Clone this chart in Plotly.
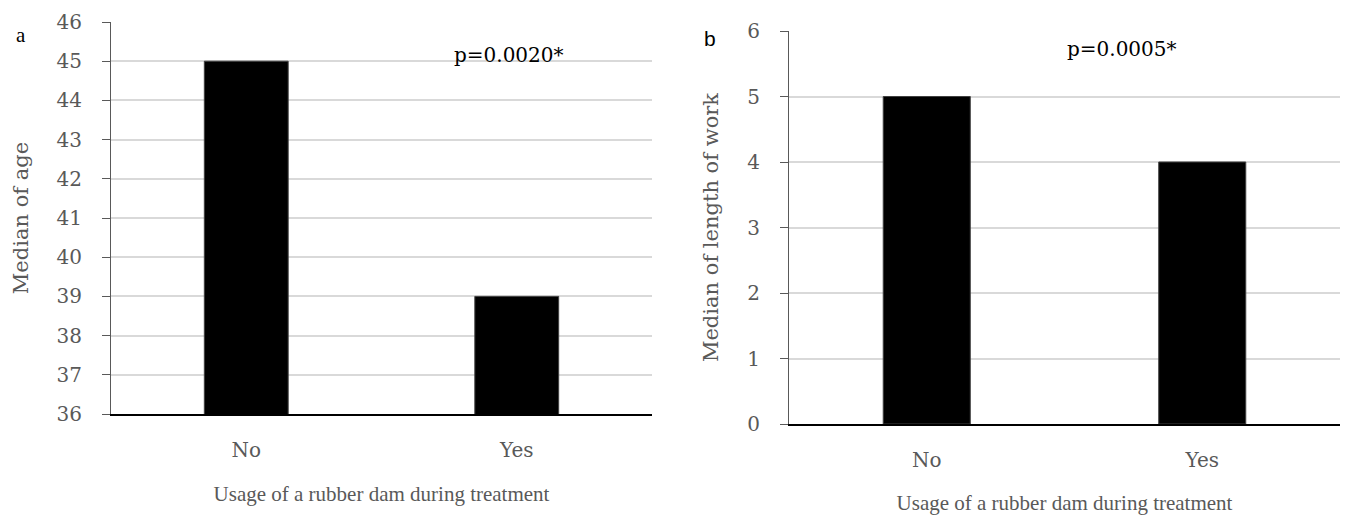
import plotly.graph_objects as go

categories = ["No", "Yes"]
median_age = [45, 39]
median_work = [5, 4]
age_ticks = list(range(36, 47))
work_ticks = list(range(0, 7))
p_age = "p=0.0020*"
p_work = "p=0.0005*"
x_title = "Usage of a rubber dam during treatment"

W, H = 1345, 515
SERIF = "Liberation Serif"
WIDE = "DejaVu Serif"
GRAY = "#595959"

fig = go.Figure()
fig.add_trace(go.Bar(x=categories, y=median_age, xaxis="x", yaxis="y",
                     marker=dict(color="black", line=dict(color="#404040", width=1)),
                     width=0.31, showlegend=False))
fig.add_trace(go.Bar(x=categories, y=median_work, xaxis="x2", yaxis="y2",
                     marker=dict(color="black", line=dict(color="#404040", width=1)),
                     width=0.316, showlegend=False))

def px_x(p):
    return p / W

def px_y(p):
    return (H - p) / H

common_x = dict(showline=True, linecolor="black", linewidth=2, ticks="",
                tickfont=dict(family=WIDE, size=20, color=GRAY),
                ticklabelstandoff=17, automargin=False,
                showgrid=False, zeroline=False, fixedrange=True)
common_y = dict(showline=True, linecolor="#595959", linewidth=1, ticks="outside",
                ticklen=8, tickcolor="#595959", tickwidth=1,
                tickfont=dict(family=WIDE, size=20, color=GRAY),
                ticklabelstandoff=16, automargin=False,
                showgrid=True, gridcolor="#d9d9d9", gridwidth=2, zeroline=False)

def note(text, x, y, family, size):
    return dict(text=text, x=px_x(x), y=px_y(y), xref="paper", yref="paper",
                xanchor="center", yanchor="middle", showarrow=False,
                font=dict(family=family, size=size, color="black"))

fig.update_layout(
    width=W, height=H, margin=dict(l=0, r=0, t=0, b=0),
    paper_bgcolor="white", plot_bgcolor="white",
    bargap=0.69,
    xaxis=dict(domain=[px_x(111), px_x(652)], anchor="y",
               title=dict(text=x_title, font=dict(family=SERIF, size=21, color=GRAY), standoff=25),
               **common_x),
    yaxis=dict(domain=[px_y(414), px_y(22)], anchor="x", range=[36, 46],
               tickvals=age_ticks, ticktext=[str(t) for t in age_ticks],
               title=dict(text="Median of age", font=dict(family=WIDE, size=21, color=GRAY), standoff=22),
               **common_y),
    xaxis2=dict(domain=[px_x(789), px_x(1340)], anchor="y2",
                title=dict(text=x_title, font=dict(family=SERIF, size=21, color=GRAY), standoff=28),
                **common_x),
    yaxis2=dict(domain=[px_y(424), px_y(31)], anchor="x2", range=[0, 6],
                tickvals=work_ticks, ticktext=[str(t) for t in work_ticks],
                title=dict(text="Median of length of work", font=dict(family=WIDE, size=21, color=GRAY), standoff=22),
                **common_y),
    annotations=[
        note("a", 21, 35, SERIF, 21),
        note("b", 710, 39, "Liberation Sans", 21),
        note(p_age, 509, 55, WIDE, 20),
        note(p_work, 1122, 49, WIDE, 20),
    ],
)

fig.write_html("out.html", config={"displayModeBar": False},
               post_script="document.body.style.margin='0px';")
